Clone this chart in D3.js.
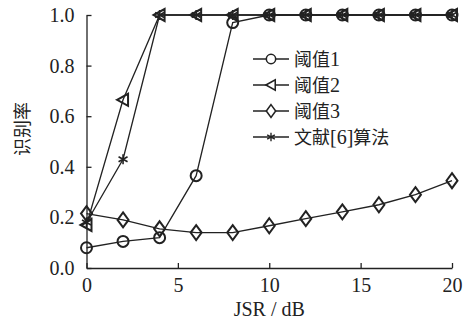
<!DOCTYPE html>
<html>
<head>
<meta charset="utf-8">
<script src="https://cdn.jsdelivr.net/npm/d3@7"></script>
<style>
  body { margin: 0; background: #fff; }
  text { fill: #222; }
</style>
</head>
<body>
<svg width="468" height="321"></svg>
<script>
const jsr = [0, 2, 4, 6, 8, 10, 12, 14, 16, 18, 20];
const thresh1 = [0.08, 0.105, 0.12, 0.365, 0.97, 1, 1, 1, 1, 1, 1];
const thresh2 = [0.17, 0.665, 1, 1, 1, 1, 1, 1, 1, 1, 1];
const thresh3 = [0.215, 0.19, 0.155, 0.14, 0.14, 0.167, 0.195, 0.222, 0.25, 0.29, 0.345];
const ref6 = [0.18, 0.43, 1, 1, 1, 1, 1, 1, 1, 1, 1];
const seriesNames = ['阈值1', '阈值2', '阈值3', '文献[6]算法'];
const xTicks = [0, 5, 10, 15, 20];
const yTicks = [0, 0.2, 0.4, 0.6, 0.8, 1.0];

const svg = d3.select('svg');
const serif = '"Liberation Serif", "Times New Roman", serif';
const cjk = '"Noto Sans CJK SC", sans-serif';

const x = d3.scaleLinear().domain([0, 20]).range([86.5, 452]);
const y = d3.scaleLinear().domain([0, 1]).range([268, 15]);

// axes (ticks point inward)
const xAxis = d3.axisBottom(x).tickValues(xTicks).tickSizeInner(-5).tickSizeOuter(0).tickPadding(10).tickFormat(d3.format('d'));
const yAxis = d3.axisLeft(y).tickValues(yTicks).tickSizeInner(-5).tickSizeOuter(0).tickPadding(12).tickFormat(d3.format('.1f'));

const gx = svg.append('g').attr('transform', 'translate(0,268)').call(xAxis);
const gy = svg.append('g').attr('transform', 'translate(86.5,0)').call(yAxis);
[gx, gy].forEach(g => {
  g.selectAll('path, line').attr('stroke', '#222').attr('stroke-width', 1.3);
  g.selectAll('text').attr('font-family', serif).attr('font-size', 20).attr('fill', '#222');
});

svg.append('text')
   .attr('x', x(10)).attr('y', 316)
   .attr('text-anchor', 'middle')
   .attr('font-family', serif).attr('font-size', 20)
   .text('JSR / dB');

svg.append('text')
   .attr('transform', 'translate(29,129) rotate(-90)')
   .attr('text-anchor', 'middle')
   .attr('font-family', cjk).attr('font-size', 18).attr('fill', '#444')
   .text('识别率');

// marker shapes
const markers = [
  g => g.append('circle').attr('r', 5.5),
  g => g.append('path').attr('d', 'M-6,0L5,-6L5,6Z'),
  g => g.append('path').attr('d', 'M0,-7.5L5.5,0L0,7.5L-5.5,0Z'),
  g => g.append('path').attr('d', 'M0,-5V5M-4.5,-2.5L4.5,2.5M-4.5,2.5L4.5,-2.5').attr('stroke-width', 1.6)
];

const allSeries = [thresh1, thresh2, thresh3, ref6];
const line = d3.line().x((d, i) => x(jsr[i])).y(d => y(d));

allSeries.forEach(vals => {
  svg.append('path')
     .attr('d', line(vals))
     .attr('fill', 'none').attr('stroke', '#222').attr('stroke-width', 1.3);
});

allSeries.forEach((vals, k) => {
  vals.forEach((v, i) => {
    const g = svg.append('g')
                 .attr('transform', `translate(${x(jsr[i])},${y(v)})`)
                 .attr('fill', 'none').attr('stroke', '#222').attr('stroke-width', 2);
    markers[k](g);
  });
});

// legend: CJK in sans, digits/brackets in serif
const legY = [59, 85, 111, 137];
seriesNames.forEach((name, k) => {
  svg.append('line')
     .attr('x1', 253).attr('x2', 289).attr('y1', legY[k]).attr('y2', legY[k])
     .attr('stroke', '#222').attr('stroke-width', 1.3);
  const g = svg.append('g')
               .attr('transform', `translate(271,${legY[k]}) scale(0.85)`)
               .attr('fill', '#fff').attr('stroke', '#222').attr('stroke-width', 1.8);
  markers[k](g);
  const t = svg.append('text')
               .attr('x', 294).attr('y', legY[k] + 7)
               .attr('font-size', 19);
  name.match(/[\u4e00-\u9fff]+|[^\u4e00-\u9fff]+/g).forEach(part => {
    t.append('tspan')
     .attr('font-family', /[\u4e00-\u9fff]/.test(part) ? cjk : serif)
     .attr('font-size', /[\u4e00-\u9fff]/.test(part) ? 18 : 20)
     .text(part);
  });
});
</script>
</body>
</html>
